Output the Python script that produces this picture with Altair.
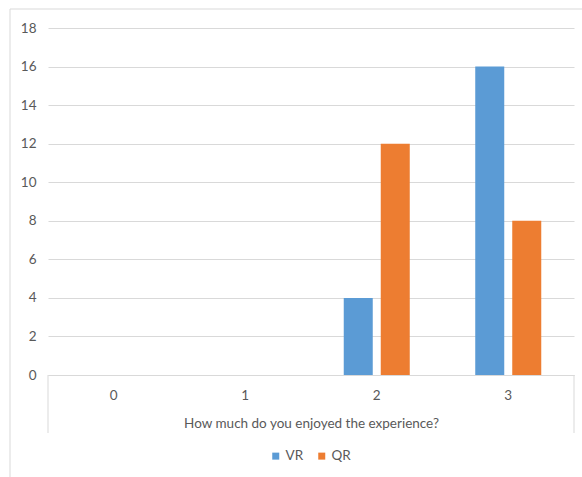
import altair as alt
import pandas as pd

# Survey answers: count of respondents per enjoyment score
scores = ["0", "1", "2", "3"]
vr_counts = [0, 0, 4, 16]
qr_counts = [0, 0, 12, 8]
series = ["VR", "QR"]
colors = ["#5B9BD5", "#ED7D31"]
y_ticks = [0, 2, 4, 6, 8, 10, 12, 14, 16, 18]
x_title = "How much do you enjoyed the experience?"

rows = []
for s, v, q in zip(scores, vr_counts, qr_counts):
    rows.append({"score": s, "group": "VR", "count": v})
    rows.append({"score": s, "group": "QR", "count": q})
df = pd.DataFrame(rows)

FONT = "Lato"
FS = 13.5
GREY = "#595959"
W, H = 526, 347

bars = alt.Chart(df).mark_bar().encode(
    x=alt.X(
        "score:N",
        sort=scores,
        scale=alt.Scale(paddingInner=0.498, paddingOuter=0.249),
        axis=alt.Axis(
            title=x_title,
            labelAngle=0,
            labelFont=FONT,
            labelFontSize=FS,
            labelColor=GREY,
            labelPadding=13,
            ticks=False,
            domainColor="#d9d9d9",
            domainWidth=1,
            titleFont=FONT,
            titleFontSize=FS,
            titleFontWeight="normal",
            titleColor=GREY,
            titlePadding=15,
        ),
    ),
    xOffset=alt.XOffset(
        "group:N", sort=series, scale=alt.Scale(paddingInner=0.216, paddingOuter=0)
    ),
    y=alt.Y(
        "count:Q",
        scale=alt.Scale(domain=[0, 18], nice=False),
        axis=alt.Axis(
            title=None,
            values=y_ticks,
            labelFont=FONT,
            labelFontSize=FS,
            labelColor=GREY,
            labelPadding=12,
            ticks=False,
            domain=False,
            gridColor="#d9d9d9",
            gridWidth=1,
        ),
    ),
    color=alt.Color(
        "group:N",
        sort=series,
        scale=alt.Scale(domain=series, range=colors),
        legend=alt.Legend(
            title=None,
            orient="none",
            direction="horizontal",
            legendX=221,
            legendY=421,
            symbolType="square",
            symbolSize=49,
            symbolStrokeWidth=0,
            labelFont=FONT,
            labelFontSize=FS,
            labelColor=GREY,
            labelOffset=3,
            columnPadding=11,
        ),
    ),
)

# side walls of the category label box under the plot
walls = alt.Chart(pd.DataFrame({"side": [0, W]})).mark_rule(
    color="#d9d9d9", strokeWidth=1
).encode(
    x=alt.X("side:Q", scale=alt.Scale(domain=[0, W], range=[0, W]), axis=None),
    y=alt.value(H),
    y2=alt.value(H + 58),
)

# outer chart frame
frame = alt.Chart(pd.DataFrame({"k": [0]})).mark_rect(
    fill=None, stroke="#d9d9d9", strokeWidth=1
).encode(
    x=alt.value(-38),
    x2=alt.value(W + 40),
    y=alt.value(-19),
    y2=alt.value(H + 140),
)

chart = (
    alt.layer(frame, bars, walls)
    .resolve_scale(x="independent")
    .properties(
        width=W,
        height=H,
        autosize=alt.AutoSizeParams(type="none"),
        padding={"left": 48, "top": 28, "right": 8, "bottom": 102},
        background="white",
    )
    .configure_view(stroke=None)
)

chart.save("out.html", embed_options={"renderer": "svg", "actions": False})
